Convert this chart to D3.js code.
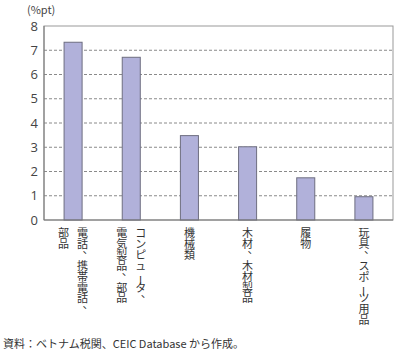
<!DOCTYPE html>
<html><head><meta charset="utf-8">
<script src="https://cdn.jsdelivr.net/npm/d3@7"></script>
<style>
body{margin:0;background:#fff;}
svg text{font-family:"Noto Sans CJK JP","Noto Sans",sans-serif;}
</style></head>
<body><svg id="c" width="400" height="355"></svg>
<script>
const categories = ["電話、携帯電話、部品","コンピュータ、電気製品、部品","機械類","木材、木材製品","履物","玩具、スポーツ用品"];
// label columns (vertical text, right-to-left)
const labelColumns = [["電話、携帯電話、","部品"],["コンピュータ、","電気製品、部品"],["機械類"],["木材、木材製品"],["履物"],["玩具、スポーツ用品"]];
const values = [7.33, 6.71, 3.48, 3.02, 1.74, 0.96];
const yTicks = [0,1,2,3,4,5,6,7,8];
const unitLabel = "(%pt)";
const sourceNote = "資料：ベトナム税関、CEIC Database から作成。";

const svg = d3.select("#c");
const L=44, R=393, T=26, B=220;
const x = d3.scaleBand().domain(categories).range([L,R]).paddingInner(0.69).paddingOuter(0.345);
const y = d3.scaleLinear().domain([0,8]).range([B,T]);

// gridlines
svg.append("g").selectAll("line").data(yTicks.filter(t=>t>0&&t<8)).join("line")
  .attr("x1",L).attr("x2",R).attr("y1",d=>y(d)).attr("y2",d=>y(d))
  .attr("stroke","#8a8a8a").attr("stroke-width",1).attr("stroke-dasharray","3,2");

// frame
svg.append("rect").attr("x",L).attr("y",T).attr("width",R-L).attr("height",B-T)
  .attr("fill","none").attr("stroke","#999").attr("stroke-width",1);

// bars
svg.append("g").selectAll("rect").data(values).join("rect")
  .attr("x",(d,i)=>x(categories[i])).attr("width",x.bandwidth())
  .attr("y",d=>y(d)).attr("height",d=>B-y(d))
  .attr("fill","#b1b1da").attr("stroke","#6e6e80").attr("stroke-width",1);

// axes lines
svg.append("line").attr("x1",L).attr("x2",L).attr("y1",T).attr("y2",B).attr("stroke","#777");
svg.append("line").attr("x1",L).attr("x2",R).attr("y1",B).attr("y2",B).attr("stroke","#777");

// y tick labels
const ya = d3.axisLeft(y).tickValues(yTicks).tickSize(0).tickPadding(6).tickFormat(d3.format("d"));
const g = svg.append("g").attr("transform",`translate(${L},0)`).call(ya);
g.select(".domain").remove();
g.selectAll("text").attr("font-size",13).attr("fill","#444").style("font-family","'Open Sans','Noto Sans',sans-serif");

// unit label
svg.append("text").attr("x",27).attr("y",14).attr("font-size",11).attr("fill","#444").text(unitLabel);

// category labels, vertical: one glyph per step, all in one text per column
const step = 10.9;
labelColumns.forEach((cols,i)=>{
  const cx = x(categories[i]) + x.bandwidth()/2;
  const n = cols.length;
  cols.forEach((c,j)=>{
    const off = n===1 ? 0 : (j===0 ? 9.5 : -9.5);
    const col = svg.append("text").attr("font-size",11).attr("fill","#333")
      .attr("text-anchor","middle").attr("dominant-baseline","central");
    Array.from(c).forEach((ch,k)=>{
      const px = cx+off, py = 232 + k*step;
      const t = col.append("tspan").text(ch);
      if (ch === "、") {
        t.attr("x",px+5.5).attr("y",py-5.5);
      } else if (ch === "ー") {
        t.attr("x",px+1).attr("y",py-5.5).attr("rotate",90);
      } else {
        t.attr("x",px).attr("y",py);
      }
    });
  });
});

svg.append("text").attr("x",3).attr("y",348).attr("font-size",11).attr("fill","#333").text(sourceNote);
</script></body></html>
